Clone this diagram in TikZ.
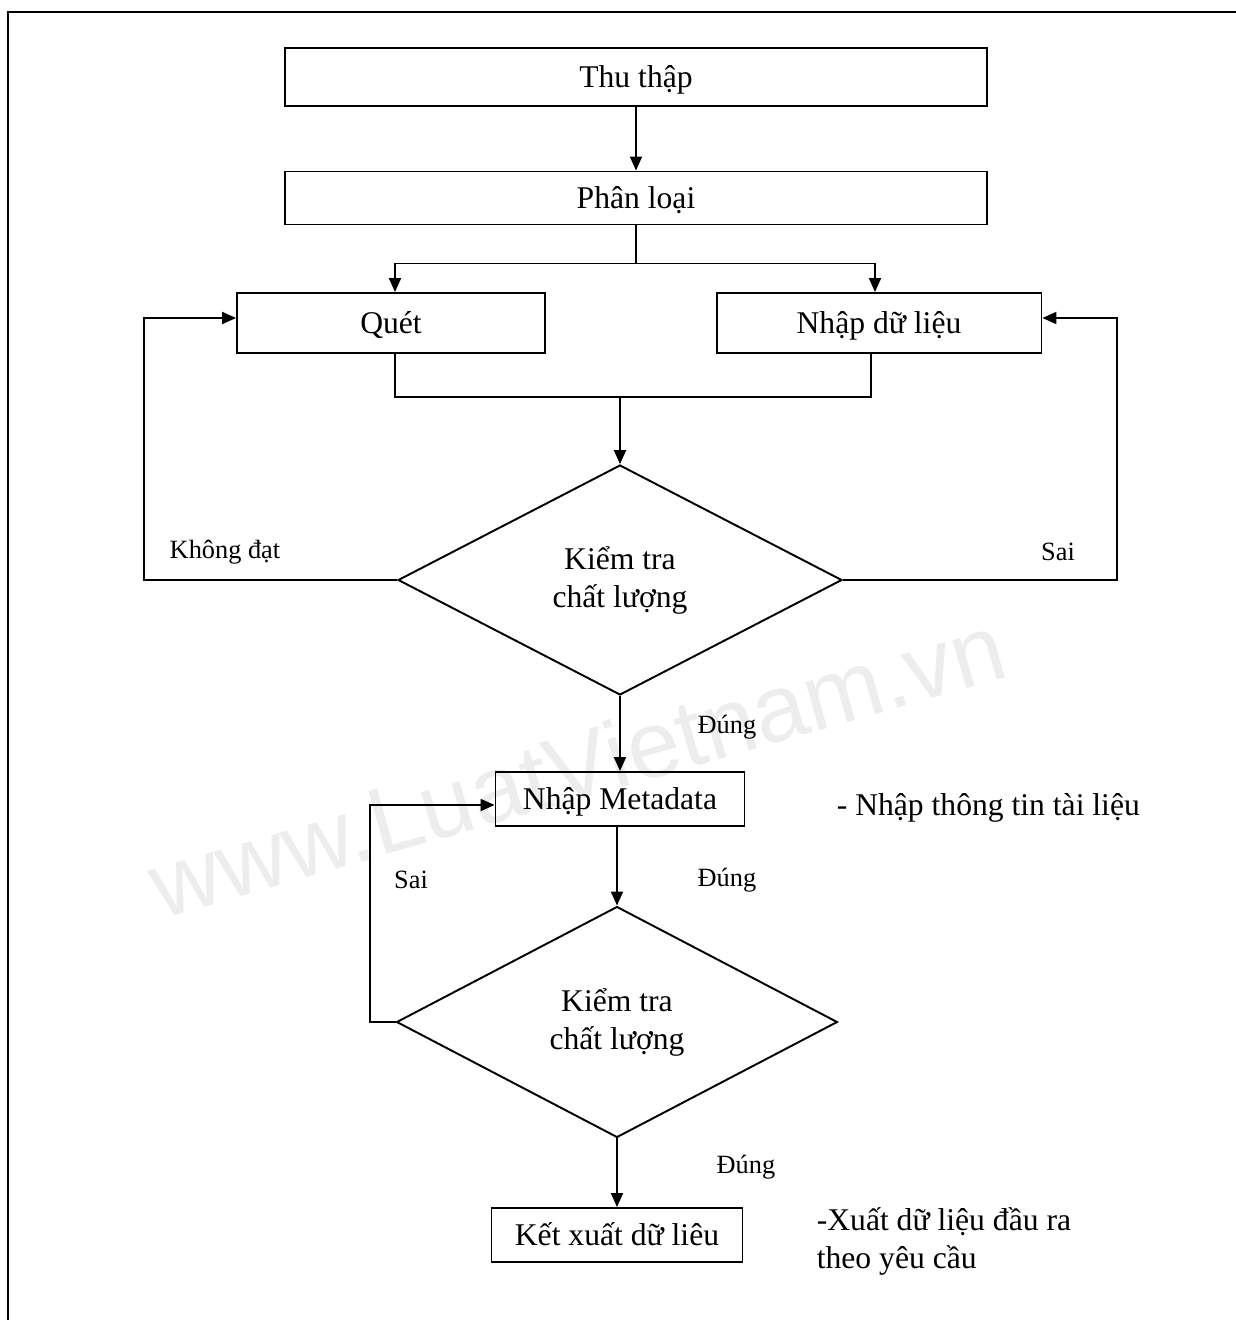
\documentclass[tikz,border=0pt]{standalone}
\usepackage{fontspec}
\setmainfont{Liberation Serif}
\newfontfamily\wmfont{Liberation Sans}
\usetikzlibrary{shapes.geometric}
\usetikzlibrary{arrows.meta}
\usetikzlibrary{positioning}

\begin{document}
\begin{tikzpicture}[x=0.02cm, y=-0.02cm, line width=1.1pt,
box/.style={draw, rectangle, inner sep=0pt, text height=15pt, text depth=3pt, font=\fontsize{18}{21.6}\selectfont},
check/.style={draw, diamond, inner sep=0pt, minimum width=8.88cm, minimum height=4.6cm, align=center, font=\fontsize{18}{21.6}\selectfont},
lbl/.style={font=\fontsize{15}{18}\selectfont},
note/.style={align=left, font=\fontsize{18}{21.6}\selectfont},
arr/.style={-{Triangle[length=0.28cm, width=0.24cm]}}]
\useasboundingbox (0,0) rectangle (1236,1320);
% watermark
\node[rotate=16, text=black!7, font=\wmfont\fontsize{54}{54}\selectfont] (wm) at (577,765) {www.LuatVietnam.vn};
% frame
\draw (1236,12) -- (8,12) -- (8,1320);

\node[box, minimum width=14.06cm, minimum height=1.16cm] (thu) at (636,77) {Thu thập};
\node[box, minimum width=14.06cm, minimum height=1.06cm] (phan) at (636,198) {Phân loại};
\node[box, minimum width=6.16cm, minimum height=1.2cm] (quet) at (391,323) {Quét};
\node[box, minimum width=6.5cm, minimum height=1.2cm] (nhap) at (879,323) {Nhập dữ liệu};
\node[check] (kt1) at (620,580) {Kiểm tra\\chất lượng};
\node[box, minimum width=4.98cm, minimum height=1.08cm] (meta) at (620,799) {Nhập Metadata};
\node[check, minimum width=8.82cm, minimum height=4.62cm] (kt2) at (617,1022) {Kiểm tra\\chất lượng};
\node[box, minimum width=5.02cm, minimum height=1.08cm] (ket) at (617,1235) {Kết xuất dữ liêu};

\draw[arr] (thu.south) -- (phan.north);
\draw (phan.south) -- ++(0,38) coordinate (chia);
\draw[arr] (chia) -| ([xshift=0.08cm]quet.north);
\draw[arr] (chia) -| ([xshift=-0.08cm]nhap.north);
\coordinate (gop) at (620,397);
\draw ([xshift=0.08cm]quet.south) |- (gop) -| ([xshift=-0.16cm]nhap.south);
\draw[arr] (gop) -- (kt1.north);

\draw[arr] (kt1.west) -- ++(-253,0) |- ([yshift=0.1cm]quet.west);
\draw[arr] (kt1.east) -- ++(274,0) |- ([yshift=0.1cm]nhap.east);
\node[lbl] (kd) at (225,552) {Không đạt};
\node[lbl] (sai1) at (1058,552) {Sai};

\draw[arr] (kt1.south) -- (meta.north);
\node[lbl] (dung1) at (727,727) {Đúng};
\draw[arr] (meta.south -| kt2.north) -- (kt2.north);
\node[lbl] (dung2) at (727,880) {Đúng};
\draw[arr] (kt2.west) -- ++(-26,0) |- ([yshift=-0.12cm]meta.west);
\node[lbl] (sai2) at (411,880) {Sai};
\draw[arr] (kt2.south) -- (ket.north);
\node[lbl] (dung3) at (746,1167) {Đúng};

\node[note, anchor=west] (ghi1) at (830,808) {- Nhập thông tin tài liệu};
\node[note, anchor=west] (ghi2) at (810,1241) {-Xuất dữ liệu đầu ra\\theo yêu cầu};
\end{tikzpicture}
\end{document}
